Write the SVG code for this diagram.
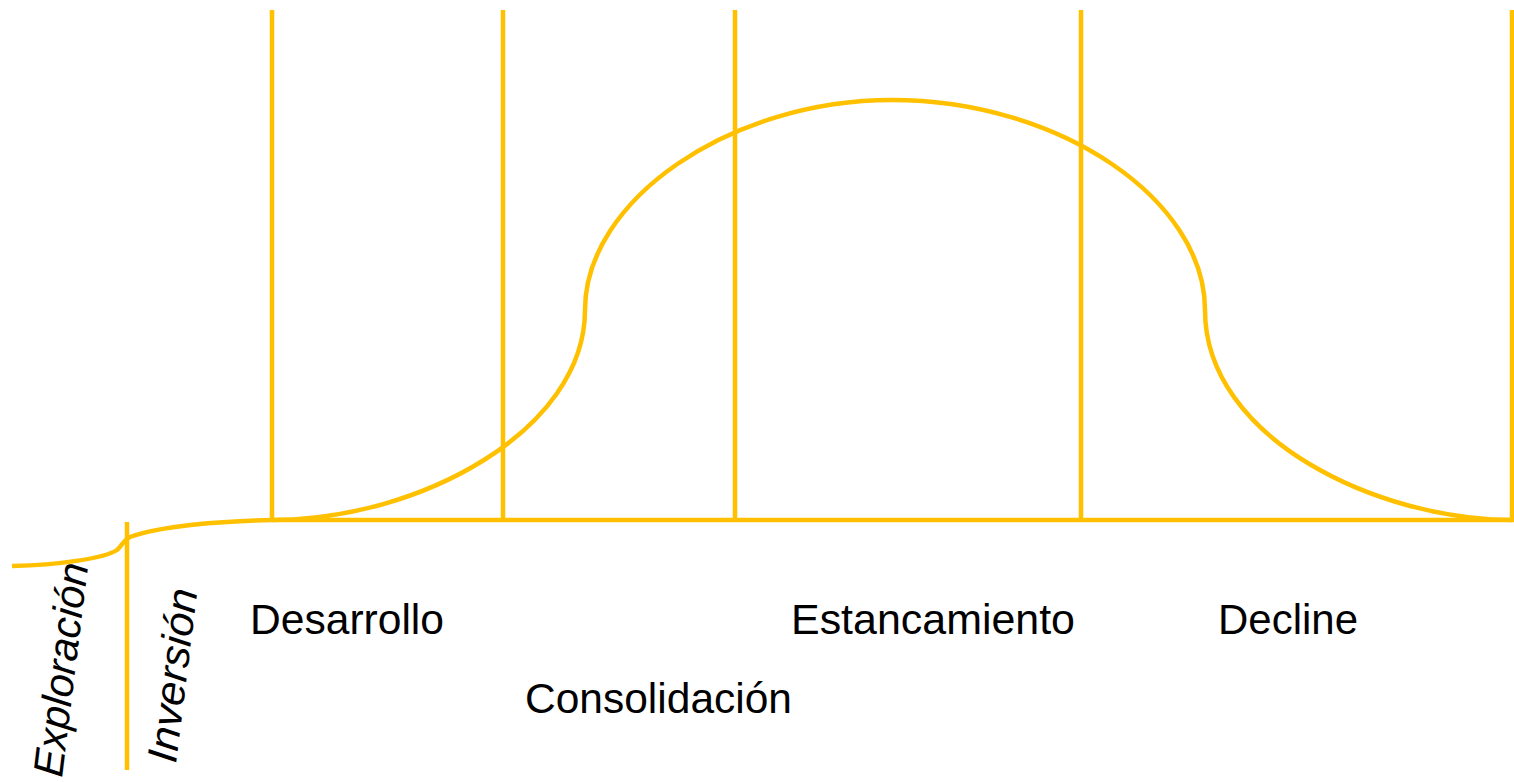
<svg xmlns="http://www.w3.org/2000/svg" width="1514" height="782" viewBox="0 0 1514 782">
<style>
.ln{fill:none;stroke:#FFC000;stroke-width:4.5}
.lb{font-family:"Liberation Sans",Arial,sans-serif;font-size:42px;fill:#000}
.it{font-style:italic}
</style>
<rect width="1514" height="782" fill="#fff"/>
<g id="connectors">
<path class="ln" d="M272,10V520M503,10V520M735,10V520M1081,10V520M1512,10V520M127,522V770"/>
<path class="ln" d="M272,520H1514"/>
<path class="ln" d="M12,566C60,565 105,558 117,550C123,545 122,541 130,537C160,526 220,521 272,520C420,520 585,430 585,310C585,200 730,100 892,100C1060,100 1205,200 1205,310C1205,440 1380,520 1512,520"/>
</g>
<g id="exploracion"><text class="lb it" transform="translate(62,778) rotate(-83)" textLength="215" lengthAdjust="spacingAndGlyphs">Exploración</text></g>
<g id="inversion"><text class="lb it" transform="translate(176,764) rotate(-83)" textLength="175" lengthAdjust="spacingAndGlyphs">Inversión</text></g>
<g id="desarrollo"><text class="lb" x="250" y="634" textLength="194" lengthAdjust="spacingAndGlyphs">Desarrollo</text></g>
<g id="consolidacion"><text class="lb" x="525" y="713" textLength="267" lengthAdjust="spacingAndGlyphs">Consolidación</text></g>
<g id="estancamiento"><text class="lb" x="791" y="634" textLength="284" lengthAdjust="spacingAndGlyphs">Estancamiento</text></g>
<g id="decline"><text class="lb" x="1218" y="634" textLength="140" lengthAdjust="spacingAndGlyphs">Decline</text></g>
</svg>
